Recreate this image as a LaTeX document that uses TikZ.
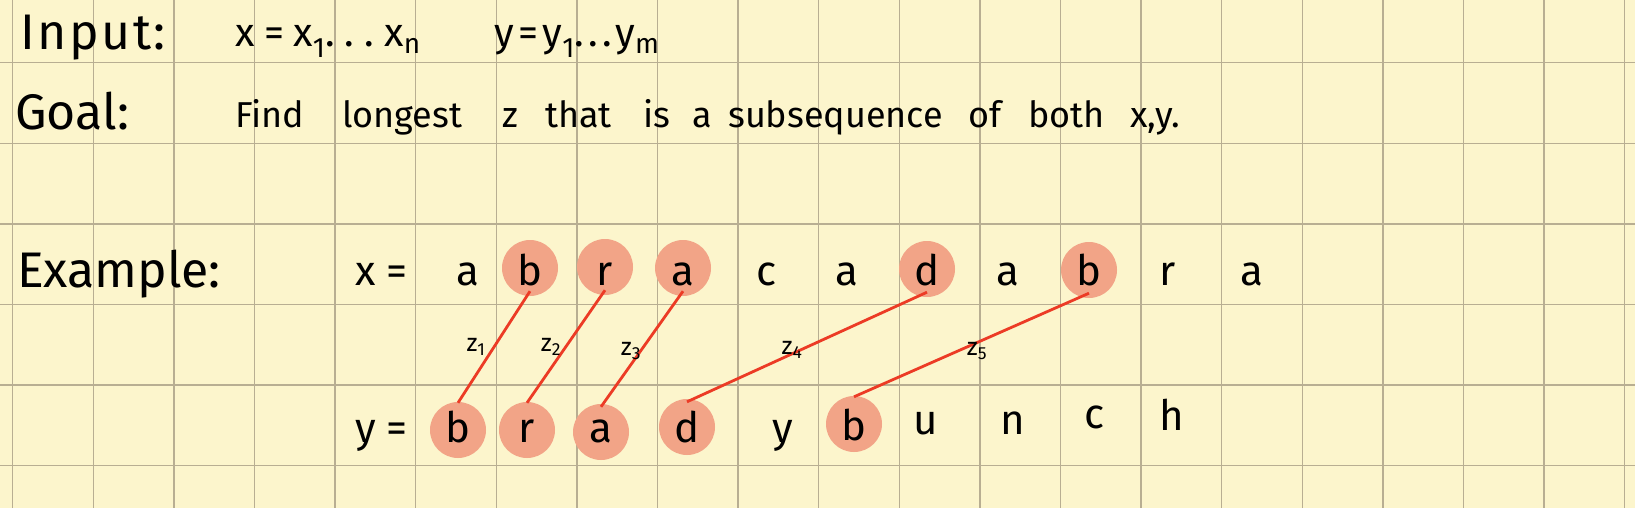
\documentclass[tikz,border=0pt]{standalone}
\usepackage{fontspec}
\setmainfont{Fira Sans}
\definecolor{paper}{HTML}{FCF5CC}
\definecolor{gridc}{HTML}{B8AE92}
\definecolor{salmon}{HTML}{F2A487}
\definecolor{redline}{HTML}{EC3B25}
\tikzset{
  gridline/.style={draw=gridc, line width=1.4pt},
  head/.style={inner sep=0pt, anchor=base west, font=\fontsize{50}{60}\selectfont},
  body/.style={inner sep=0pt, anchor=base west, font=\fontsize{36}{44}\selectfont},
  seqlet/.style={inner sep=0pt, anchor=base, font=\fontsize{42}{50}\selectfont},
  hl/.style={circle, fill=salmon, draw=none, minimum size=56pt, inner sep=0pt},
  match/.style={draw=redline, line width=2.8pt},
  zlab/.style={inner sep=0pt, font=\fontsize{25}{30}\selectfont}
}
\begin{document}
\begin{tikzpicture}[x=1pt,y=-1pt]
\useasboundingbox (0,0) rectangle (1635,508);
\fill[paper] (0,0) rectangle (1635,508);
\foreach \i in {0,...,20} \draw[gridline] ({12.7+80.6*\i},0) -- ({12.7+80.6*\i},508);
\foreach \j in {0,...,5} \draw[gridline] (0,{62.7+80.6*\j}) -- (1635,{62.7+80.6*\j});

% Header lines
\node[head] (input) at (20,50) {\addfontfeature{LetterSpace=5}Input:};
\node[body] (xdef) at (235,47) {\fontsize{40}{48}\selectfont\addfontfeature{LetterSpace=25}x=x\textsubscript{1}...x\textsubscript{n}};
\node[body] (ydef) at (494,47) {\fontsize{40}{48}\selectfont\addfontfeature{LetterSpace=11}y=y\textsubscript{1}...y\textsubscript{m}};
\node[head] (goal) at (15,130) {Goal:};
\node[body] (g1) at (235,128) {Find};
\node[body] (g2) at (342,128) {longest};
\node[body] (g3) at (502,128) {z};
\node[body] (g4) at (545,128) {that};
\node[body] (g5) at (643,128) {is};
\node[body] (g6) at (692,128) {a};
\node[body] (g7) at (728,128) {subsequence};
\node[body] (g8) at (968,128) {of};
\node[body] (g9) at (1028,128) {both};
\node[body] (g10) at (1130,128) {x,y.};
\node[head] (example) at (17,287) {Example:};

% highlight circles
\node[hl] (cx2) at (530,268) {};
\node[hl] (cx3) at (605,267) {};
\node[hl] (cx4) at (683,268) {};
\node[hl] (cx7) at (927,269) {};
\node[hl] (cx9) at (1089,270) {};
\node[hl] (cy1) at (458,430) {};
\node[hl] (cy2) at (527,430) {};
\node[hl] (cy3) at (601,432) {};
\node[hl] (cy4) at (687,427) {};
\node[hl] (cy6) at (854,424) {};

% matching lines
\draw[match] ([yshift=5pt]cx2.south) -- ([yshift=-1pt]cy1.north);
\draw[match] ([yshift=5pt]cx3.south) -- ([yshift=-1pt]cy2.north);
\draw[match] ([yshift=5pt]cx4.south) -- ([yshift=-3pt]cy3.north);
\draw[match] ([yshift=5pt]cx7.south) -- ([yshift=-3pt]cy4.north);
\draw[match] ([yshift=5pt]cx9.south) -- ([yshift=-1pt]cy6.north);

% labels
\node[zlab] (z1) at (476,347) {z\textsubscript{1}};
\node[zlab] (z2) at (551,347) {z\textsubscript{2}};
\node[zlab] (z3) at (631,351) {z\textsubscript{3}};
\node[zlab] (z4) at (792,350) {z\textsubscript{4}};
\node[zlab] (z5) at (977,351) {z\textsubscript{5}};

% x row
\node[seqlet, anchor=base west] (xeq) at (355,285) {x =};
\node[seqlet] (x1) at (468,285) {a};
\node[seqlet] (x2) at (530,285) {b};
\node[seqlet] (x3) at (605,285) {r};
\node[seqlet] (x4) at (683,285) {a};
\node[seqlet] (x5) at (767,285) {c};
\node[seqlet] (x6) at (847,285) {a};
\node[seqlet] (x7) at (927,285) {d};
\node[seqlet] (x8) at (1008,285) {a};
\node[seqlet] (x9) at (1089,285) {b};
\node[seqlet] (x10) at (1168,285) {r};
\node[seqlet] (x11) at (1252,285) {a};

% y row
\node[seqlet, anchor=base west] (yeq) at (355,442) {y =};
\node[seqlet] (y1) at (458,442) {b};
\node[seqlet] (y2) at (527,442) {r};
\node[seqlet] (y3) at (601,442) {a};
\node[seqlet] (y4) at (687,442) {d};
\node[seqlet] (y5) at (783,442) {y};
\node[seqlet] (y6) at (854,440) {b};
\node[seqlet] (y7) at (926,434) {u};
\node[seqlet] (y8) at (1013,434) {n};
\node[seqlet] (y9) at (1095,428) {c};
\node[seqlet] (y10) at (1172,430) {h};
\end{tikzpicture}
\end{document}
